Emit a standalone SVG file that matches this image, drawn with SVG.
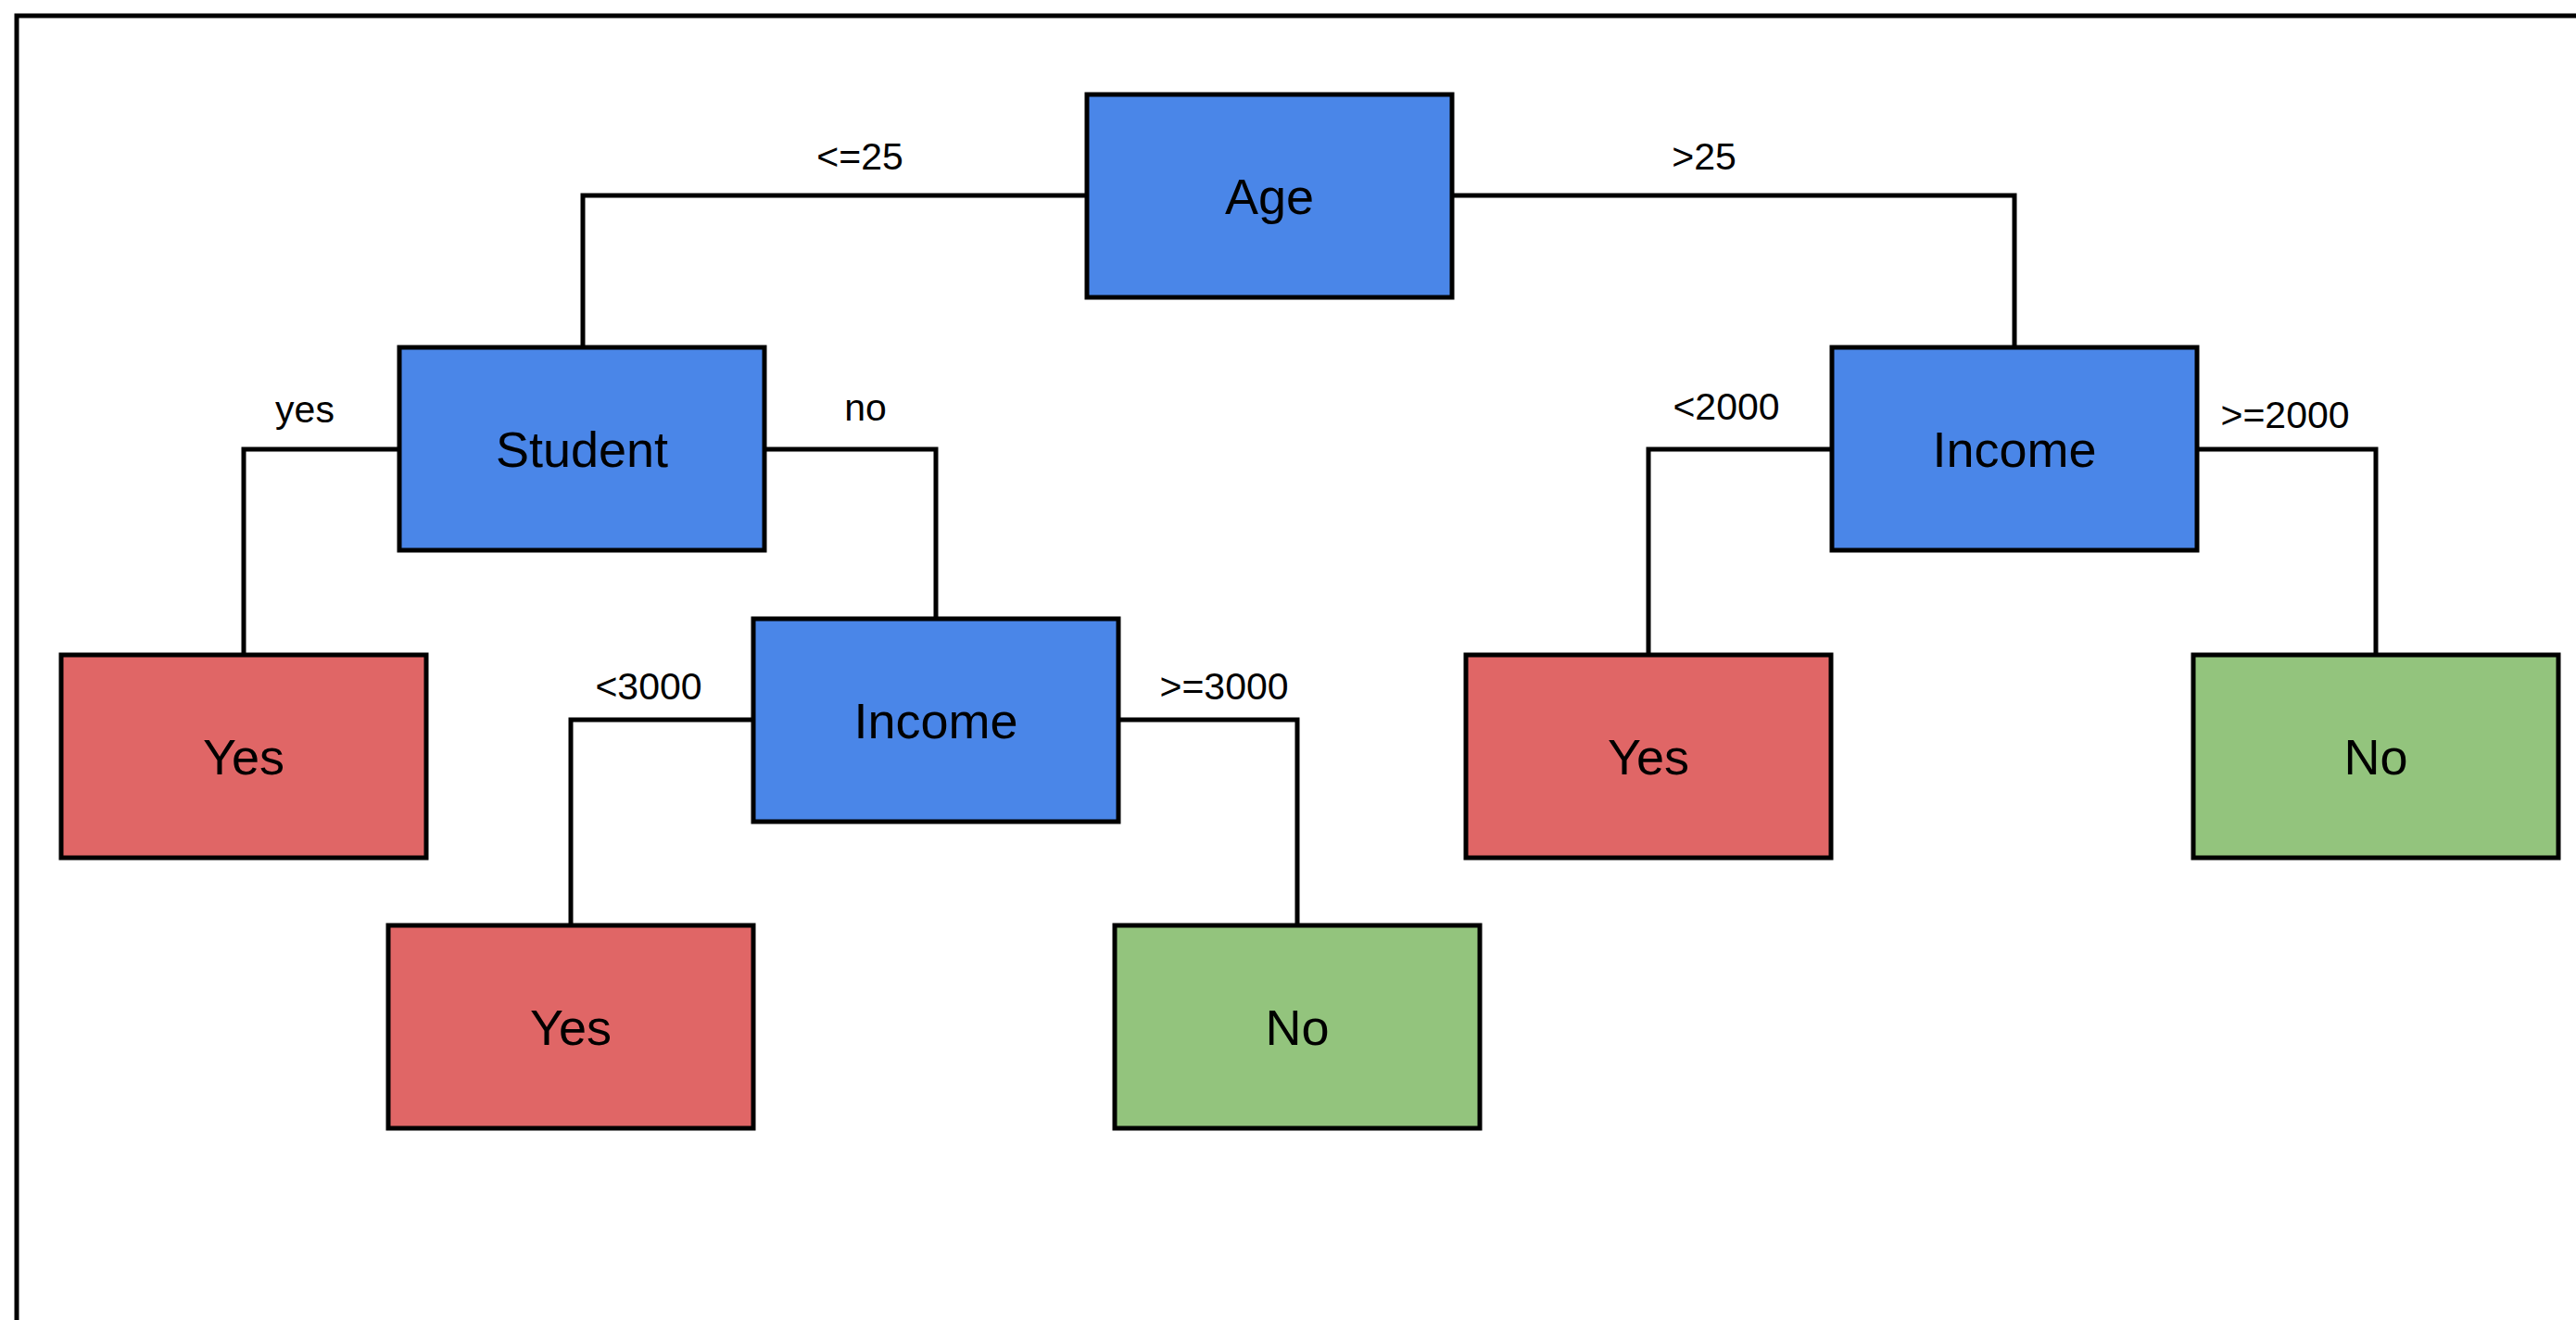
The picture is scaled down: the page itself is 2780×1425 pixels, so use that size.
<svg xmlns="http://www.w3.org/2000/svg" width="2780" height="1425" viewBox="0 0 2780 1425">
<style>
.node rect{stroke:#000;stroke-width:5}
.dec rect{fill:#4a86e8}
.yes rect{fill:#e06666}
.no rect{fill:#93c47d}
.node text{font-family:"Liberation Sans",Arial,sans-serif;font-size:54px;fill:#000;text-anchor:middle}
.lbl{font-family:"Liberation Sans",Arial,sans-serif;font-size:41px;fill:#000;text-anchor:middle}
.conn path{fill:none;stroke:#000;stroke-width:5}
</style>
<rect x="0" y="0" width="2780" height="1425" fill="#fff"/>
<path d="M18,1425 V17 H2780" fill="none" stroke="#000" stroke-width="5"/>
<g id="connectors" class="conn">
<path d="M1173,211 H629 V375"/>
<path d="M1567,211 H2174 V375"/>
<path d="M431,485 H263 V707"/>
<path d="M825,485 H1010 V668"/>
<path d="M1977,485 H1779 V707"/>
<path d="M2371,485 H2564 V707"/>
<path d="M813,777 H616 V999"/>
<path d="M1207,777 H1400 V999"/>
<text class="lbl" x="928" y="183">&lt;=25</text>
<text class="lbl" x="1839" y="183">&gt;25</text>
<text class="lbl" x="329" y="456">yes</text>
<text class="lbl" x="934" y="454">no</text>
<text class="lbl" x="1863" y="453">&lt;2000</text>
<text class="lbl" x="2466" y="462">&gt;=2000</text>
<text class="lbl" x="700" y="755">&lt;3000</text>
<text class="lbl" x="1321" y="755">&gt;=3000</text>
</g>
<g id="age" class="node dec"><rect x="1173" y="102" width="394" height="219"/><text x="1370" y="231">Age</text></g>
<g id="student" class="node dec"><rect x="431" y="375" width="394" height="219"/><text x="628" y="504">Student</text></g>
<g id="income-right" class="node dec"><rect x="1977" y="375" width="394" height="219"/><text x="2174" y="504">Income</text></g>
<g id="yes-left" class="node yes"><rect x="66" y="707" width="394" height="219"/><text x="263" y="836">Yes</text></g>
<g id="income-mid" class="node dec"><rect x="813" y="668" width="394" height="219"/><text x="1010" y="797">Income</text></g>
<g id="yes-right" class="node yes"><rect x="1582" y="707" width="394" height="219"/><text x="1779" y="836">Yes</text></g>
<g id="no-right" class="node no"><rect x="2367" y="707" width="394" height="219"/><text x="2564" y="836">No</text></g>
<g id="yes-bottom" class="node yes"><rect x="419" y="999" width="394" height="219"/><text x="616" y="1128">Yes</text></g>
<g id="no-bottom" class="node no"><rect x="1203" y="999" width="394" height="219"/><text x="1400" y="1128">No</text></g>
</svg>
